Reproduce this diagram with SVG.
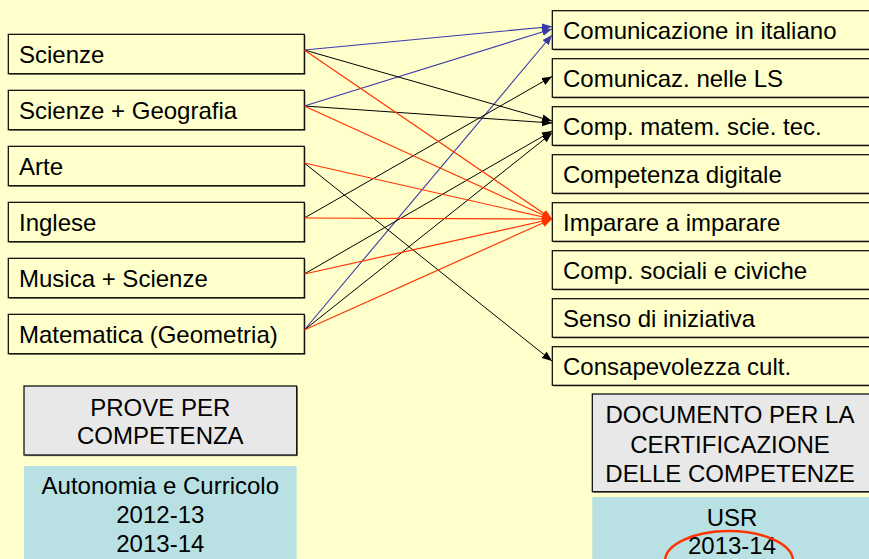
<svg xmlns="http://www.w3.org/2000/svg" width="869" height="559" viewBox="0 0 869 559">
<defs>
<style>
.bg{fill:#ffffcc}
.box{fill:#ffffcc;stroke:#000;stroke-width:1.2}
.sh{fill:#8a8a7a}
.gray{fill:#e8e8e8;stroke:#000;stroke-width:1.2}
.teal{fill:#b9e1e3}
.t{font-family:"Liberation Sans",Arial,sans-serif;font-size:24px;fill:#000}
.c{text-anchor:middle}
.k{stroke:#000;stroke-width:1;fill:none;marker-end:url(#ak)}
.b{stroke:#3b3ba8;stroke-width:1.1;fill:none;marker-end:url(#ab)}
.r{stroke:#ff3300;stroke-width:1.2;fill:none;marker-end:url(#ar)}
</style>
<marker id="ak" markerUnits="userSpaceOnUse" markerWidth="12" markerHeight="10" refX="10" refY="4" orient="auto"><path d="M0,0 L10,4 L0,8 Z" fill="#000"/></marker>
<marker id="ab" markerUnits="userSpaceOnUse" markerWidth="12" markerHeight="10" refX="10" refY="4" orient="auto"><path d="M0,0 L10,4 L0,8 Z" fill="#3b3ba8"/></marker>
<marker id="ar" markerUnits="userSpaceOnUse" markerWidth="12" markerHeight="10" refX="10" refY="4" orient="auto"><path d="M0,0 L10,4 L0,8 Z" fill="#ff3300"/></marker>
</defs>
<rect class="bg" x="0" y="0" width="869" height="559"/>

<g id="left-scienze"><rect class="sh" x="9.5" y="35.5" width="296" height="39.4"/><rect class="box" x="8.3" y="34.3" width="296" height="39.4"/><text class="t" x="19" y="63.3">Scienze</text></g>
<g id="left-scienze-geografia"><rect class="sh" x="9.5" y="91.5" width="296" height="39.4"/><rect class="box" x="8.3" y="90.3" width="296" height="39.4"/><text class="t" x="19" y="119.3">Scienze + Geografia</text></g>
<g id="left-arte"><rect class="sh" x="9.5" y="147.5" width="296" height="39.4"/><rect class="box" x="8.3" y="146.3" width="296" height="39.4"/><text class="t" x="19" y="175.3">Arte</text></g>
<g id="left-inglese"><rect class="sh" x="9.5" y="203.5" width="296" height="39.4"/><rect class="box" x="8.3" y="202.3" width="296" height="39.4"/><text class="t" x="19" y="231.3">Inglese</text></g>
<g id="left-musica-scienze"><rect class="sh" x="9.5" y="259.5" width="296" height="39.4"/><rect class="box" x="8.3" y="258.3" width="296" height="39.4"/><text class="t" x="19" y="287.3">Musica + Scienze</text></g>
<g id="left-matematica"><rect class="sh" x="9.5" y="315.5" width="296" height="39.4"/><rect class="box" x="8.3" y="314.3" width="296" height="39.4"/><text class="t" x="19" y="343.3">Matematica (Geometria)</text></g>

<g id="right-comunicazione-italiano"><rect class="sh" x="553.5" y="11.9" width="330" height="38.6"/><rect class="box" x="552.3" y="10.7" width="330" height="38.6"/><text class="t" x="563" y="39">Comunicazione in italiano</text></g>
<g id="right-comunicaz-ls"><rect class="sh" x="553.5" y="59.9" width="330" height="38.6"/><rect class="box" x="552.3" y="58.7" width="330" height="38.6"/><text class="t" x="563" y="87">Comunicaz. nelle LS</text></g>
<g id="right-comp-matem"><rect class="sh" x="553.5" y="107.9" width="330" height="38.6"/><rect class="box" x="552.3" y="106.7" width="330" height="38.6"/><text class="t" x="563" y="135">Comp. matem. scie. tec.</text></g>
<g id="right-competenza-digitale"><rect class="sh" x="553.5" y="155.9" width="330" height="38.6"/><rect class="box" x="552.3" y="154.7" width="330" height="38.6"/><text class="t" x="563" y="183">Competenza digitale</text></g>
<g id="right-imparare"><rect class="sh" x="553.5" y="203.9" width="330" height="38.6"/><rect class="box" x="552.3" y="202.7" width="330" height="38.6"/><text class="t" x="563" y="231">Imparare a imparare</text></g>
<g id="right-comp-sociali"><rect class="sh" x="553.5" y="251.9" width="330" height="38.6"/><rect class="box" x="552.3" y="250.7" width="330" height="38.6"/><text class="t" x="563" y="279">Comp. sociali e civiche</text></g>
<g id="right-senso-iniziativa"><rect class="sh" x="553.5" y="299.9" width="330" height="38.6"/><rect class="box" x="552.3" y="298.7" width="330" height="38.6"/><text class="t" x="563" y="327">Senso di iniziativa</text></g>
<g id="right-consapevolezza"><rect class="sh" x="553.5" y="347.9" width="330" height="38.6"/><rect class="box" x="552.3" y="346.7" width="330" height="38.6"/><text class="t" x="563" y="375">Consapevolezza cult.</text></g>

<g id="prove-per-competenza"><rect class="sh" x="25.2" y="387.2" width="272.7" height="69"/><rect class="gray" x="24" y="386" width="272.7" height="69"/><text class="t c" x="160.3" y="415.5">PROVE PER</text><text class="t c" x="160.3" y="443.5">COMPETENZA</text></g>
<g id="autonomia-curricolo"><rect class="teal" x="24" y="466" width="272.7" height="100"/><text class="t c" x="160.3" y="493.5">Autonomia e Curricolo</text><text class="t c" x="160.3" y="522.5">2012-13</text><text class="t c" x="160.3" y="551.5">2013-14</text></g>

<g id="documento-certificazione"><rect class="sh" x="593.5" y="395.2" width="290" height="97.7"/><rect class="gray" x="592.3" y="394" width="290" height="97.7"/><text class="t c" x="730" y="423">DOCUMENTO PER LA</text><text class="t c" x="730" y="452.5">CERTIFICAZIONE</text><text class="t c" x="730" y="481.5">DELLE COMPETENZE</text></g>
<g id="usr"><rect class="teal" x="592.3" y="497" width="290" height="70"/><text class="t c" x="732" y="526">USR</text><text class="t c" x="732" y="553.5">2013-14</text><ellipse cx="729" cy="561" rx="64" ry="30" fill="none" stroke="#ff3300" stroke-width="2.5"/></g>

<g id="connectors">
<line class="b" x1="304.3" y1="50" x2="552" y2="26.5" stroke-width="1.4"/>
<line class="b" x1="304.3" y1="106" x2="552" y2="29"/>
<line class="b" x1="304.3" y1="330" x2="552" y2="35"/>
<line class="k" x1="304.3" y1="50" x2="552" y2="121"/>
<line class="k" x1="304.3" y1="106" x2="552" y2="123" stroke-width="1.3"/>
<line class="k" x1="304.3" y1="218" x2="552" y2="76.5"/>
<line class="k" x1="304.3" y1="274" x2="552" y2="131"/>
<line class="k" x1="304.3" y1="330" x2="552" y2="133"/>
<line class="k" x1="304.3" y1="163" x2="552" y2="361"/>
<line class="r" x1="304.3" y1="50" x2="552" y2="219"/>
<line class="r" x1="304.3" y1="106" x2="552" y2="219"/>
<line class="r" x1="304.3" y1="163" x2="552" y2="219" stroke-width="1.8"/>
<line class="r" x1="304.3" y1="218" x2="552" y2="219" stroke-width="2"/>
<line class="r" x1="304.3" y1="274" x2="552" y2="219" stroke-width="1.6"/>
<line class="r" x1="304.3" y1="330" x2="552" y2="219"/>
</g>
</svg>
